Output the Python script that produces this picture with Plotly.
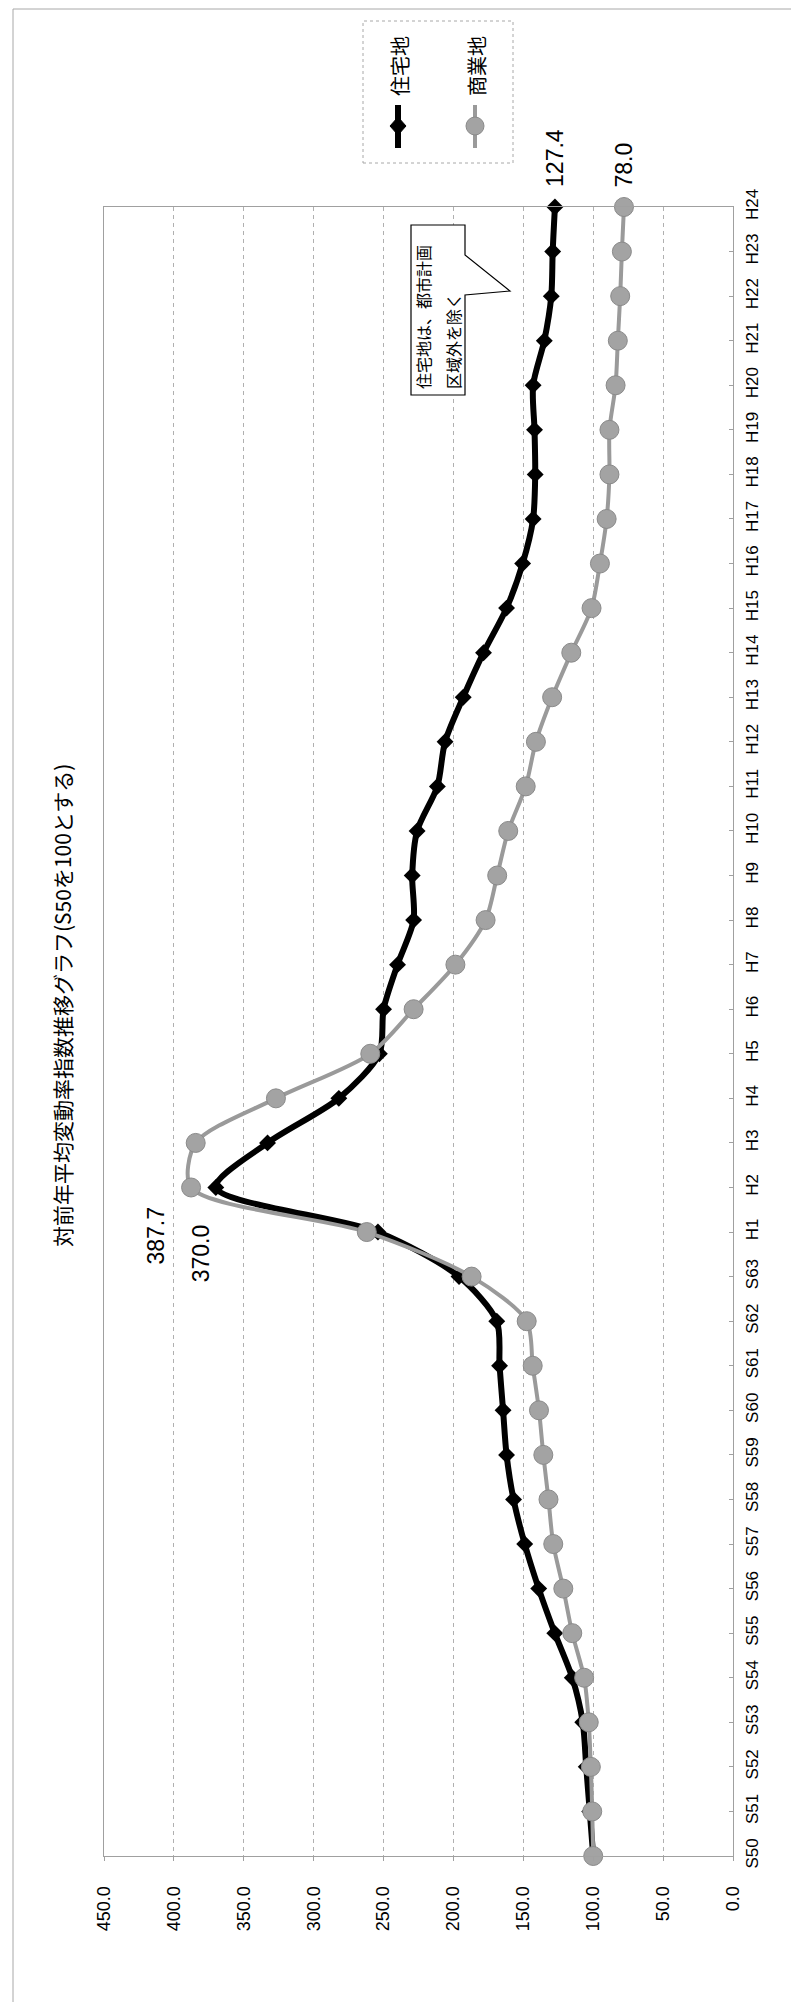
import plotly.graph_objects as go

# ---------------- data ----------------
categories = ["S50", "S51", "S52", "S53", "S54", "S55", "S56", "S57", "S58", "S59",
              "S60", "S61", "S62", "S63",
              "H1", "H2", "H3", "H4", "H5", "H6", "H7", "H8", "H9", "H10", "H11", "H12",
              "H13", "H14", "H15", "H16", "H17", "H18", "H19", "H20", "H21", "H22", "H23", "H24"]

residential = [100.0, 102.5, 105.0, 107.5, 115.0, 127.5, 139.0, 149.0, 157.0, 162.0,
               164.5, 167.0, 169.0, 196.0,
               254.0, 370.0, 333.0, 282.0, 253.0, 250.0, 240.0, 228.5, 229.5, 226.0, 211.5, 206.0,
               193.0, 178.5, 162.0, 150.5, 143.0, 141.5, 142.0, 143.0, 135.0, 130.0, 129.0, 127.4]

commercial = [100.0, 100.7, 101.7, 103.2, 106.5, 115.0, 121.4, 128.6, 132.0, 135.7,
              138.8, 143.3, 147.6, 187.0,
              262.0, 387.7, 384.4, 327.0, 259.5, 228.5, 198.6, 177.0, 168.7, 160.8, 148.3, 141.0,
              129.4, 115.7, 101.2, 95.2, 90.4, 88.4, 88.4, 84.0, 82.4, 80.7, 79.5, 78.0]

value_ticks = [0, 50, 100, 150, 200, 250, 300, 350, 400, 450]

series_names = ["住宅地", "商業地"]
title_text = "対前年平均変動率指数推移グラフ(S50を100とする)"
note_lines = ["住宅地は、都市計画", "区域外を除く"]

# ---------------- geometry helpers ----------------
W, H = 799, 2002
L, R, T, B = 96, 725, 199, 1848


def px(x):
    return (x - L) / (R - L)


def py(y):
    return (B - y) / (B - T)


JP = "Noto Sans CJK JP"
NUM = "Liberation Sans, Arial, sans-serif"

fig = go.Figure()

fig.add_trace(go.Scatter(
    x=residential, y=categories, mode="lines+markers", name=series_names[0],
    line=dict(color="#000000", width=6, shape="spline", smoothing=0.8),
    marker=dict(symbol="diamond", size=13, color="#000000"),
    cliponaxis=False,
))
fig.add_trace(go.Scatter(
    x=commercial, y=categories, mode="lines+markers", name=series_names[1],
    line=dict(color="#9a9a9a", width=4, shape="spline", smoothing=0.8),
    marker=dict(symbol="circle", size=19, color="#a3a3a3",
                line=dict(color="#8a8a8a", width=1)),
    cliponaxis=False,
))

shapes = []
# outer chart frame
shapes.append(dict(type="rect", xref="paper", yref="paper",
                   x0=px(5), x1=px(794), y0=py(2000), y1=py(1),
                   line=dict(color="#a8a8a8", width=1), layer="below"))
# legend box
shapes.append(dict(type="rect", xref="paper", yref="paper",
                   x0=px(355), x1=px(505), y0=py(155), y1=py(13),
                   line=dict(color="#a8a8a8", width=1, dash="dot"), fillcolor="white"))
# legend symbols
shapes.append(dict(type="line", xref="paper", yref="paper",
                   x0=px(390), x1=px(390), y0=py(140), y1=py(97),
                   line=dict(color="black", width=6)))
dx, dy = 8, 9
shapes.append(dict(type="path", xref="paper", yref="paper",
                   path=f"M {px(390)},{py(118-dy)} L {px(390+dx)},{py(118)} L {px(390)},{py(118+dy)} L {px(390-dx)},{py(118)} Z",
                   fillcolor="black", line=dict(color="black", width=1)))
shapes.append(dict(type="line", xref="paper", yref="paper",
                   x0=px(467), x1=px(467), y0=py(140), y1=py(97),
                   line=dict(color="#9a9a9a", width=4)))
shapes.append(dict(type="circle", xref="paper", yref="paper",
                   x0=px(458), x1=px(476), y0=py(127), y1=py(109),
                   fillcolor="#a3a3a3", line=dict(color="#8a8a8a", width=1)))
# callout (rectangle with wedge pointer)
cx0, cx1, cy0, cy1 = 403, 457, 217, 387
callout = (f"M {px(cx0)},{py(cy0)} L {px(cx1)},{py(cy0)} L {px(cx1)},{py(247)} "
           f"L {px(502)},{py(283)} L {px(cx1)},{py(287)} L {px(cx1)},{py(cy1)} "
           f"L {px(cx0)},{py(cy1)} Z")
shapes.append(dict(type="path", xref="paper", yref="paper", path=callout,
                   fillcolor="white", line=dict(color="black", width=1.2)))

annotations = []
# title
annotations.append(dict(text=title_text, xref="paper", yref="paper",
                        x=px(54), y=py(998), showarrow=False, textangle=-90,
                        xanchor="center", yanchor="middle",
                        font=dict(family=JP, size=21, color="black")))
# legend labels
annotations.append(dict(text=series_names[0], xref="paper", yref="paper",
                        x=px(391), y=py(58), showarrow=False, textangle=-90,
                        xanchor="center", yanchor="middle",
                        font=dict(family=JP, size=20, color="black")))
annotations.append(dict(text=series_names[1], xref="paper", yref="paper",
                        x=px(468), y=py(58), showarrow=False, textangle=-90,
                        xanchor="center", yanchor="middle",
                        font=dict(family=JP, size=20, color="black")))
# callout text
annotations.append(dict(text=note_lines[0], xref="paper", yref="paper",
                        x=px(415), y=py(383), showarrow=False, textangle=-90,
                        xanchor="center", yanchor="bottom",
                        font=dict(family=JP, size=16, color="black")))
annotations.append(dict(text=note_lines[1], xref="paper", yref="paper",
                        x=px(445), y=py(383), showarrow=False, textangle=-90,
                        xanchor="center", yanchor="bottom",
                        font=dict(family=JP, size=16, color="black")))
# data labels
lab_font = dict(family=NUM, size=23, color="black")
annotations.append(dict(text=f"{residential[-1]:.1f}", x=residential[-1], y=categories[-1],
                        xref="x", yref="y", showarrow=False, textangle=-90,
                        xanchor="center", yanchor="bottom", yshift=18, font=lab_font))
annotations.append(dict(text=f"{commercial[-1]:.1f}", x=commercial[-1], y=categories[-1],
                        xref="x", yref="y", showarrow=False, textangle=-90,
                        xanchor="center", yanchor="bottom", yshift=18, font=lab_font))
ipk = categories.index("H2")
annotations.append(dict(text=f"{commercial[ipk]:.1f}", x=commercial[ipk], y=categories[ipk],
                        xref="x", yref="y", showarrow=False, textangle=-90,
                        xanchor="center", yanchor="middle",
                        xshift=-35, yshift=-48, font=lab_font))
annotations.append(dict(text=f"{residential[ipk]:.1f}", x=residential[ipk], y=categories[ipk],
                        xref="x", yref="y", showarrow=False, textangle=-90,
                        xanchor="center", yanchor="middle",
                        xshift=-14, yshift=-66, font=lab_font))

fig.update_layout(
    width=W, height=H,
    margin=dict(l=L, r=W - R, t=T, b=H - B, pad=0),
    paper_bgcolor="white", plot_bgcolor="white",
    showlegend=False,
    shapes=shapes, annotations=annotations,
    xaxis=dict(range=[450, 0], tickvals=value_ticks, tickformat=".1f", tickangle=-90,
               showgrid=True, gridcolor="#b0b0b0", griddash="4px,4px", gridwidth=1,
               showline=True, linecolor="#a0a0a0", linewidth=1, mirror=True,
               ticks="outside", ticklen=4, tickcolor="#a0a0a0", zeroline=False,
               ticklabelstandoff=18,
               tickfont=dict(family=NUM, size=18, color="black")),
    yaxis=dict(type="category", categoryorder="array", categoryarray=categories,
               range=[0, len(categories) - 1], side="right", tickangle=-90,
               showgrid=False, showline=True, linecolor="#a0a0a0", linewidth=1, mirror=True,
               ticks="inside", ticklen=4, tickcolor="#a0a0a0", zeroline=False,
               ticklabelstandoff=4,
               tickfont=dict(family=NUM, size=17, color="black")),
)

fig.write_html("out.html")
